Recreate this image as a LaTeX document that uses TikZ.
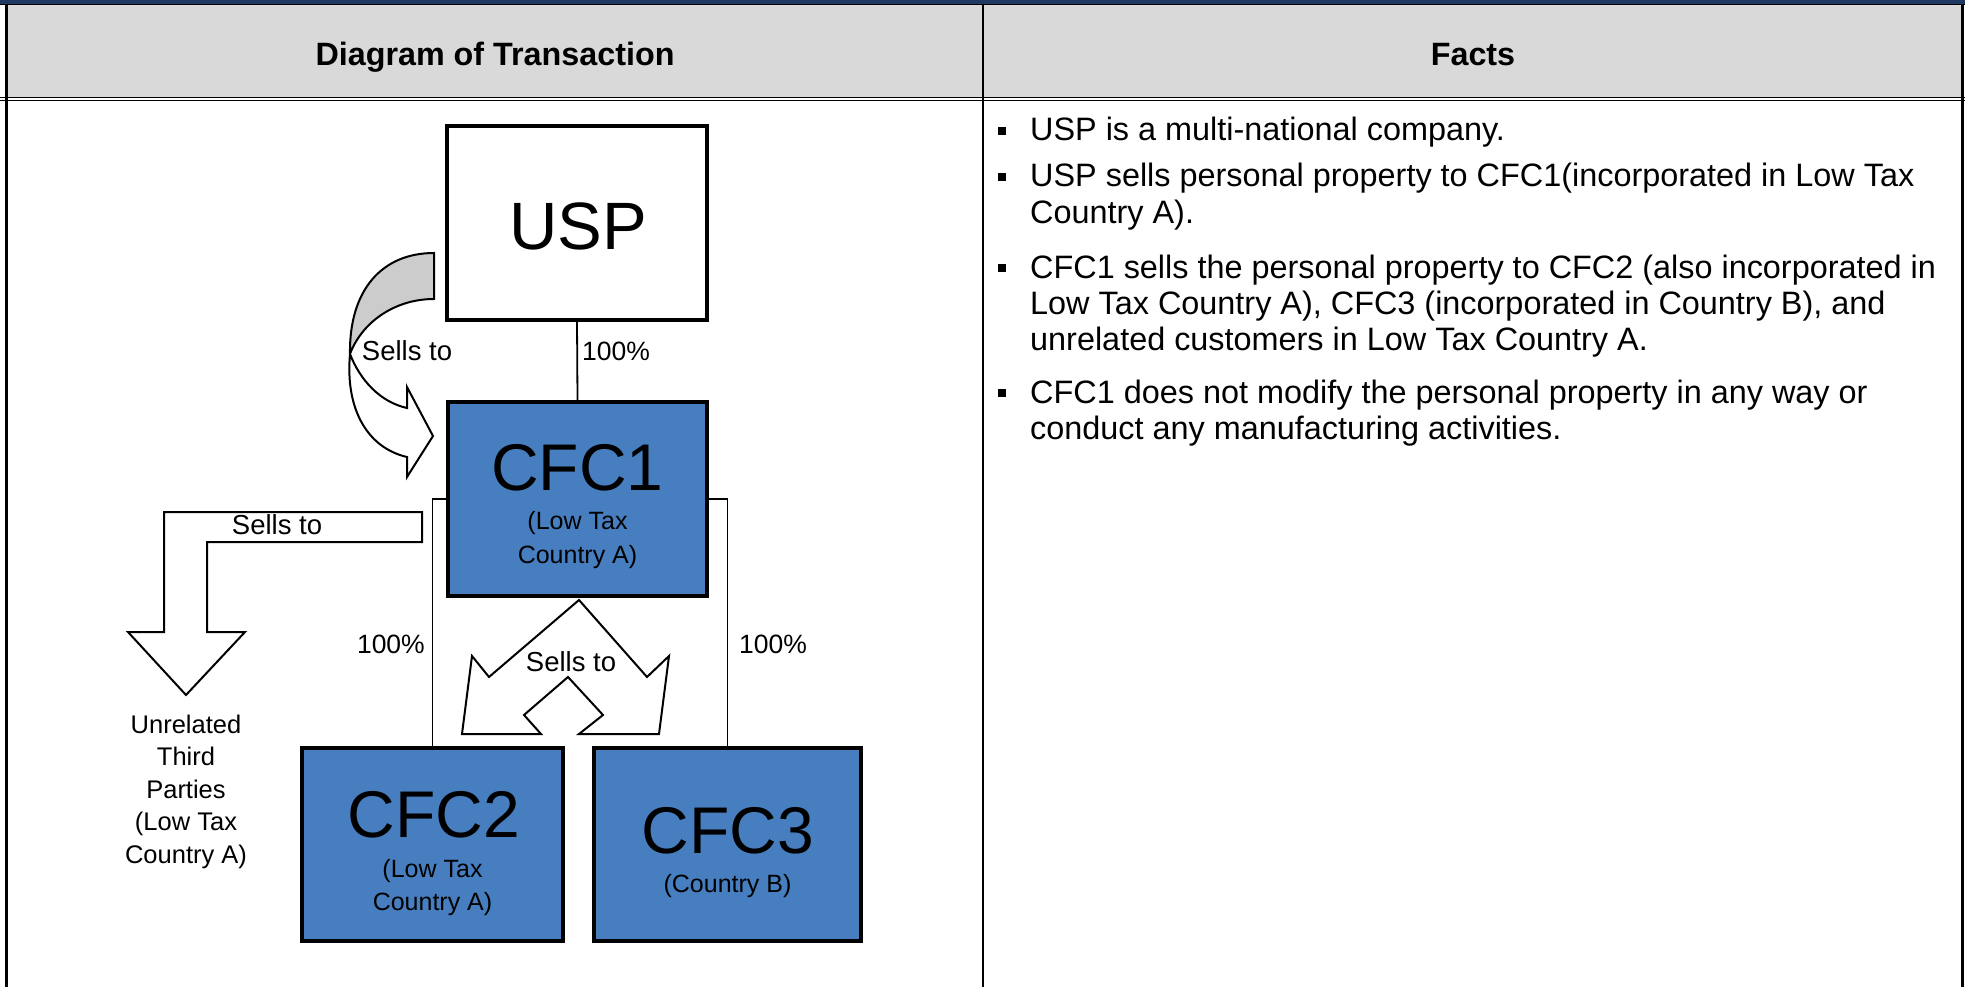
\documentclass[tikz,border=0pt]{standalone}
\usepackage{fontspec}
\setmainfont{Liberation Sans}
\definecolor{navy}{RGB}{31,56,100}
\definecolor{hdrgray}{RGB}{217,217,217}
\definecolor{boxblue}{RGB}{70,126,192}
\definecolor{arrgray}{RGB}{204,204,204}
\begin{document}
\begin{tikzpicture}[x=1pt,y=-1pt,
  hdr/.style={anchor=base,inner sep=0,font=\bfseries\fontsize{32.3}{38}\selectfont},
  bul/.style={anchor=base west,inner sep=0,font=\fontsize{32.4}{38}\selectfont},
  sq/.style={fill=black,inner sep=0,minimum size=8.5pt},
  box/.style={draw=black,line width=4pt,inner sep=0},
  bigname/.style={anchor=base,inner sep=0,font=\fontsize{66}{70}\selectfont},
  subtxt/.style={anchor=base,inner sep=0,font=\fontsize{25}{30}\selectfont},
  lbl/.style={inner sep=0,font=\fontsize{27.5}{32}\selectfont},
  pct/.style={inner sep=0,font=\fontsize{26.5}{32}\selectfont},
  conn/.style={draw=black,line width=1.8pt},
  blockarrow/.style={draw=black,line width=2pt,fill=white,line join=miter}
]
\useasboundingbox (0,0) rectangle (1965,987);
\fill[white] (0,0) rectangle (1965,987);
% table frame
\fill[hdrgray] (6,4) rectangle (1962,98);
\fill[navy] (0,0) rectangle (1965,4);
\draw[line width=1.2pt] (0,4.6) -- (1965,4.6);
\draw[line width=1.4pt] (0,97.3) -- (1965,97.3);
\draw[line width=1.4pt] (0,100.7) -- (1965,100.7);
\draw[line width=2.5pt] (6.5,4) -- (6.5,987);
\draw[line width=2pt] (983,4) -- (983,987);
\draw[line width=3pt] (1962.5,4) -- (1962.5,987);
% headers
\node[hdr] (h1) at (495,66) {Diagram of Transaction};
\node[hdr] (h2) at (1473,66) {Facts};
% facts
\node[sq] (b1) at (1002,131) {};
\node[bul] (f1) at (1030,141) {USP is a multi-national company.};
\node[sq] (b2) at (1002,177) {};
\node[bul] (f2) at (1030,187) {USP sells personal property to CFC1(incorporated in Low Tax};
\node[bul] (f3) at (1030,224) {Country A).};
\node[sq] (b3) at (1002,268) {};
\node[bul] (f4) at (1030,278) {CFC1 sells the personal property to CFC2 (also incorporated in};
\node[bul] (f5) at (1030,314) {Low Tax Country A), CFC3 (incorporated in Country B), and};
\node[bul] (f6) at (1030,350) {unrelated customers in Low Tax Country A.};
\node[sq] (b4) at (1002,393) {};
\node[bul] (f7) at (1030,403) {CFC1 does not modify the personal property in any way or};
\node[bul] (f8) at (1030,439) {conduct any manufacturing activities.};
% boxes
\node[box,fill=white,minimum width=260pt,minimum height=194pt] (usp) at (577,223) {};
\node[box,fill=boxblue,minimum width=259pt,minimum height=194pt] (cfc1) at (577.5,499) {};
\node[box,fill=boxblue,minimum width=261pt,minimum height=193pt] (cfc2) at (432.5,844.5) {};
\node[box,fill=boxblue,minimum width=267pt,minimum height=193pt] (cfc3) at (727.5,844.5) {};
% box texts
\node[bigname,font=\fontsize{67}{70}\selectfont] (uspname) at (578,250) {USP};
\node[bigname] (cfc1name) at (577.5,490) {CFC1};
\node[subtxt] (cfc1a) at (577.5,529) {(Low Tax};
\node[subtxt] (cfc1b) at (577.5,563) {Country A)};
\node[bigname] (cfc2name) at (434,837) {CFC2};
\node[subtxt] (cfc2a) at (432.5,877) {(Low Tax};
\node[subtxt] (cfc2b) at (432.5,910) {Country A)};
\node[bigname] (cfc3name) at (728,853) {CFC3};
\node[subtxt] (cfc3a) at (727.5,892) {(Country B)};
% ownership lines
\draw[conn] (usp.south) -- (cfc1.north);
\draw[conn] (cfc1.west) -| (cfc2.north);
\draw[conn] (cfc1.east) -| (cfc3.north);
\node[pct,anchor=base west] (p1) at (582,360) {100\%};
\node[pct,anchor=base east] (p2) at (425,653) {100\%};
\node[pct,anchor=base west] (p3) at (739,653) {100\%};
% curved arrow USP -> CFC1
\draw[draw=black,line width=2pt,fill=arrgray] (434,253) .. controls (382,253) and (349,290) .. (350,354) .. controls (362,322) and (395,299) .. (434,299) -- cycle;
\draw[blockarrow] (350,354) .. controls (345,410) and (368,448) .. (407,457) -- (407,477) -- (433,436) -- (407,387) -- (407,408) .. controls (380,402) and (360,380) .. (350,354) -- cycle;
\node[lbl,anchor=base] (s1) at (407,360) {Sells to};
% bent arrow to unrelated parties
\draw[blockarrow] (422,512) -- (164,512) -- (164,632) -- (128,632) -- (186,695) -- (245,632) -- (207,632) -- (207,542) -- (422,542) -- cycle;
\node[lbl,anchor=base] (s2) at (277,534) {Sells to};
% split arrow to CFC2 and CFC3
\draw[blockarrow] (579,600) -- (489,677) -- (472,656) -- (462,734) -- (541,734) -- (524,715) -- (568,677) -- (603,715) -- (579,734) -- (659,734) -- (669,656) -- (647,677) -- cycle;
\node[lbl,anchor=base] (s3) at (571,671) {Sells to};
% unrelated third parties
\node[subtxt,font=\fontsize{25.5}{30}\selectfont] (u1) at (186,733) {Unrelated};
\node[subtxt,font=\fontsize{25.5}{30}\selectfont] (u2) at (186,765) {Third};
\node[subtxt,font=\fontsize{25.5}{30}\selectfont] (u3) at (186,798) {Parties};
\node[subtxt,font=\fontsize{25.5}{30}\selectfont] (u4) at (186,830) {(Low Tax};
\node[subtxt,font=\fontsize{25.5}{30}\selectfont] (u5) at (186,863) {Country A)};
\end{tikzpicture}
\end{document}
